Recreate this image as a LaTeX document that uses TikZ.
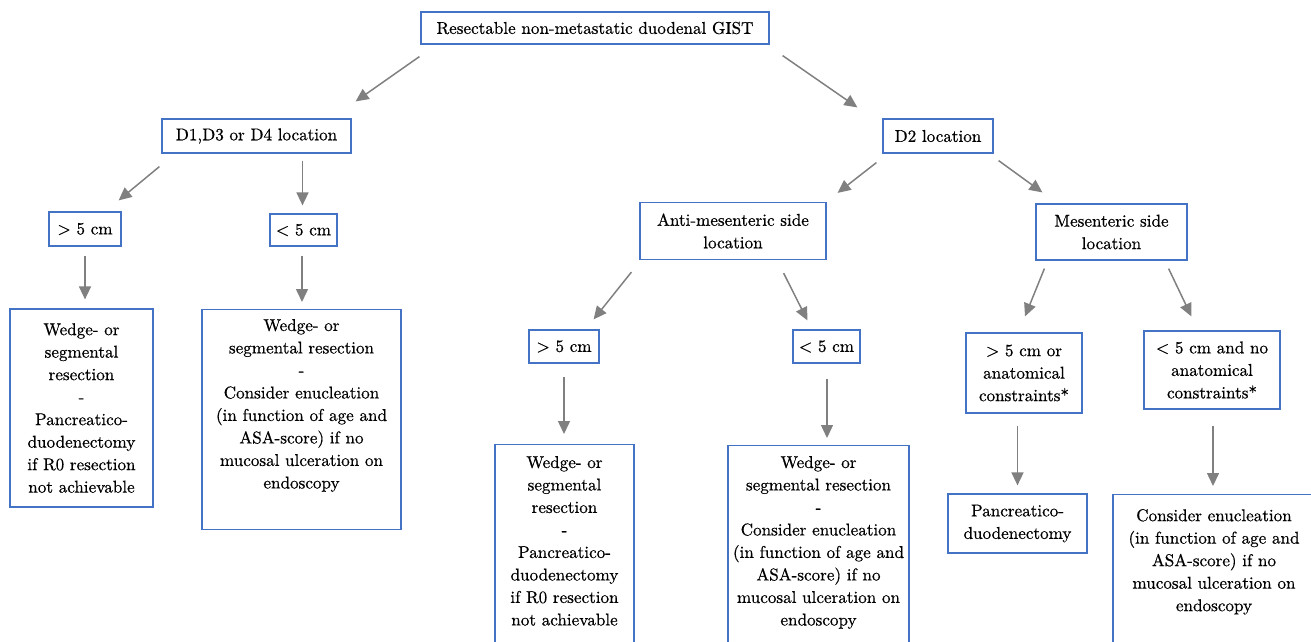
\documentclass[tikz,border=0pt]{standalone}
\usepackage{fontspec}
\setmainfont{lmroman10-regular.otf}[FakeBold=0.6]
\usetikzlibrary{arrows.meta,calc}
\definecolor{boxblue}{RGB}{68,114,196}
\definecolor{arrgray}{RGB}{128,128,128}
\tikzset{
  box/.style={draw=boxblue, line width=1.2pt, align=center, inner xsep=2pt, inner ysep=4pt,
    font=\fontsize{17.1pt}{22.5pt}\selectfont},
  arr/.style={draw=arrgray, line width=1.5pt, -{Triangle[length=13pt,width=12pt]}}
}
\begin{document}
\begin{tikzpicture}[x=1pt,y=-1pt]
\useasboundingbox (0,0) rectangle (1311,642);
\clip (0,0) rectangle (1311,642);

\node[box, minimum width=348pt, minimum height=32pt] (top) at (595,28) {Resectable non-metastatic duodenal GIST};

\node[box, minimum width=189pt, minimum height=34pt] (d1) at (256.5,136) {D1,D3 or D4 location};
\node[box, minimum width=110pt, minimum height=34pt] (d2) at (938,136) {D2 location};

\node[box, minimum width=72pt, minimum height=34pt] (gt5L) at (85,229) {> 5 cm};
\node[box, minimum width=67pt, minimum height=32pt] (lt5L) at (303.5,230) {< 5 cm};

\node[box, minimum width=186pt, minimum height=57pt] (anti) at (733,231) {Anti-mesenteric side\\location};
\node[box, minimum width=151pt, minimum height=56pt] (mes) at (1111.5,232) {Mesenteric side\\location};

\node[box, minimum width=143pt, minimum height=198pt] (bL1) at (81.5,408)
  {Wedge- or\\segmental\\resection\\-\\Pancreatico-\\duodenectomy\\if R0 resection\\not achievable};
\node[box, anchor=north, minimum width=199pt, minimum height=220pt] (bL2) at (301.5,309)
  {Wedge- or\\segmental resection\\-\\Consider enucleation\\(in function of age and\\ASA-score) if no\\mucosal ulceration on\\endoscopy\rule[-31.7pt]{0pt}{31.7pt}};

\node[box, minimum width=70pt, minimum height=33pt] (gt5M) at (564,346.5) {> 5 cm};
\node[box, minimum width=67pt, minimum height=33pt] (lt5M) at (826.5,346.5) {< 5 cm};

\node[box, minimum width=116pt, minimum height=80pt] (gt5anat) at (1024,373) {> 5 cm or\\anatomical\\constraints*};
\node[box, minimum width=136pt, minimum height=78pt] (lt5no) at (1212,370) {< 5 cm and no\\anatomical\\constraints*};

\node[box, anchor=north, minimum width=139pt, minimum height=230pt] (bM1) at (564.5,444)
  {Wedge- or\\segmental\\resection\\-\\Pancreatico-\\duodenectomy\\if R0 resection\\not achievable\rule[-37.7pt]{0pt}{37.7pt}};
\node[box, anchor=north, minimum width=181pt, minimum height=230pt] (bM2) at (818.5,445)
  {Wedge- or\\segmental resection\\-\\Consider enucleation\\(in function of age and\\ASA-score) if no\\mucosal ulceration on\\endoscopy\rule[-39.7pt]{0pt}{39.7pt}};

\node[box, minimum width=139pt, minimum height=59pt] (panc) at (1017.5,523.5) {Pancreatico-\\duodenectomy};
\node[box, anchor=north, minimum width=202pt, minimum height=180pt] (bR) at (1214,494)
  {Consider enucleation\\(in function of age and\\ASA-score) if no\\mucosal ulceration on\\endoscopy\rule[-49pt]{0pt}{49pt}};

% connectors
\draw[arr] ($(top.south west)+(-1,12)$) -- ($(d1.north east)+(4,-17)$);
\draw[arr] ($(top.south east)+(13,11)$) -- ($(d2.north west)+(-25,-11)$);
\draw[arr] ($(d1.south west)+(-2,13)$) -- ($(gt5L.north east)+(-3,-11)$);
\draw[arr] ($(lt5L.north |- d1.south)+(-1,7)$) -- ($(lt5L.north)+(-1,-8)$);
\draw[arr] ($(d2.south west)+(-6,9)$) -- ($(anti.north east)+(11,-9)$);
\draw[arr] ($(d2.south east)+(5,7)$) -- ($(mes.north west)+(7,-11)$);
\draw[arr] ($(gt5L.south)+(0,9)$) -- ($(gt5L.south |- bL1.north)+(0,-9)$);
\draw[arr] ($(lt5L.south)+(-1.5,9)$) -- ($(lt5L.south |- bL2.north)+(-1.5,-7)$);
\draw[arr] ($(anti.south west)+(-8,12)$) -- ($(gt5M.north east)+(-6,-10)$);
\draw[arr] ($(anti.south east)+(-43,13)$) -- ($(lt5M.north west)+(15,-9)$);
\draw[arr] ($(gt5M.south)+(0,13)$) -- ($(gt5M.south |- bM1.north)+(0,-10)$);
\draw[arr] ($(lt5M.south)+(0.5,15)$) -- ($(lt5M.south |- bM2.north)+(0.5,-7)$);
\draw[arr] ($(mes.south west)+(9,8)$) -- ($(gt5anat.north)+(1,-16)$);
\draw[arr] ($(mes.south east)+(-19,8)$) -- ($(lt5no.north west)+(48,-14)$);
\draw[arr] ($(panc.north |- gt5anat.south)+(0,12)$) -- ($(panc.north)+(0,-8)$);
\draw[arr] ($(lt5no.south)+(1,16)$) -- ($(lt5no.south |- bR.north)+(1,-8)$);
\end{tikzpicture}
\end{document}
